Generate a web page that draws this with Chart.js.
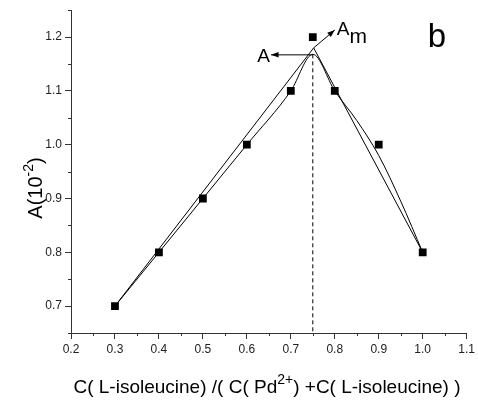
<!DOCTYPE html>
<html>
<head>
<meta charset="utf-8">
<script src="https://cdn.jsdelivr.net/npm/chart.js@4/dist/chart.umd.min.js"></script>
<style>
  html, body { margin: 0; padding: 0; background: #fff; }
  #wrap { width: 478px; height: 405px; }
</style>
</head>
<body>
<div id="wrap"><canvas id="jobChart"></canvas></div>
<script>
// measured points (squares)
const xValues = [0.3, 0.4, 0.5, 0.6, 0.7, 0.75, 0.8, 0.9, 1.0];
const aValues = [0.7, 0.8, 0.9, 1.0, 1.1, 1.2, 1.1, 1.0, 0.8];

// smooth fitted curve
const fitX = [0.3, 0.4, 0.5, 0.6, 0.7, 0.75, 0.8, 0.85, 0.9, 0.95, 1.0];
const fitY = [0.7, 0.8, 0.9, 1.0, 1.1, 1.168, 1.1, 1.045, 0.98, 0.895, 0.8];

// two straight tangent lines meeting at Am
const tangentX = [0.3, 0.752, 1.0];
const tangentY = [0.7, 1.18, 0.8];

// dashed line at the curve maximum
const peakX = 0.75;
const peakY = 1.168;

// arrows: [fromX, fromY, toX, toY]
const arrowA = [0.75, 1.167, 0.655, 1.167];
const arrowAm = [0.752, 1.18, 0.80, 1.213];

const xTicks = [0.2, 0.3, 0.4, 0.5, 0.6, 0.7, 0.8, 0.9, 1.0, 1.1];
const yTicks = [0.7, 0.8, 0.9, 1.0, 1.1, 1.2];
const xMinor = [0.25, 0.35, 0.45, 0.55, 0.65, 0.75, 0.85, 0.95, 1.05];
const yMinor = [0.65, 0.75, 0.85, 0.95, 1.05, 1.15, 1.25];

const fontName = '"Liberation Sans", Arial, sans-serif';
const axisColor = '#333';

function pts(xs, ys) {
    return xs.map((x, i) => ({ x: x, y: ys[i] }));
}

// draws minor ticks, arrows, labels and axis titles
const extras = {
    id: 'extras',
    afterDraw(chart) {
        const ctx = chart.ctx;
        const xs = chart.scales.x;
        const ys = chart.scales.y;
        const area = chart.chartArea;
        ctx.save();

        // minor ticks
        ctx.strokeStyle = axisColor;
        ctx.lineWidth = 1;
        ctx.beginPath();
        xMinor.forEach(v => {
            const px = Math.round(xs.getPixelForValue(v)) + 0.5;
            ctx.moveTo(px, area.bottom);
            ctx.lineTo(px, area.bottom + 3);
        });
        yMinor.forEach(v => {
            const py = Math.round(ys.getPixelForValue(v)) + 0.5;
            ctx.moveTo(area.left, py);
            ctx.lineTo(area.left - 3, py);
        });
        ctx.stroke();

        // arrows
        function arrow(a) {
            const x1 = xs.getPixelForValue(a[0]), y1 = ys.getPixelForValue(a[1]);
            const x2 = xs.getPixelForValue(a[2]), y2 = ys.getPixelForValue(a[3]);
            const ang = Math.atan2(y2 - y1, x2 - x1);
            ctx.strokeStyle = '#000';
            ctx.fillStyle = '#000';
            ctx.lineWidth = 1;
            ctx.beginPath();
            ctx.moveTo(x1, y1);
            ctx.lineTo(x2, y2);
            ctx.stroke();
            ctx.beginPath();
            ctx.moveTo(x2, y2);
            ctx.lineTo(x2 - 8 * Math.cos(ang - 0.35), y2 - 8 * Math.sin(ang - 0.35));
            ctx.lineTo(x2 - 8 * Math.cos(ang + 0.35), y2 - 8 * Math.sin(ang + 0.35));
            ctx.closePath();
            ctx.fill();
        }
        arrow(arrowA);
        arrow(arrowAm);

        ctx.fillStyle = '#000';
        ctx.textBaseline = 'alphabetic';

        // A label
        ctx.font = '19px ' + fontName;
        ctx.textAlign = 'right';
        ctx.fillText('A', xs.getPixelForValue(arrowA[2]) - 1, ys.getPixelForValue(arrowA[3]) + 7);

        // Am label
        ctx.textAlign = 'left';
        const amx = xs.getPixelForValue(arrowAm[2]) + 2;
        const amy = ys.getPixelForValue(arrowAm[3]);
        ctx.font = '19px ' + fontName;
        ctx.fillText('A', amx, amy + 5);
        const aw = ctx.measureText('A').width;
        ctx.font = '21px ' + fontName;
        ctx.fillText('m', amx + aw, amy + 13);

        // panel letter
        ctx.font = '33px ' + fontName;
        ctx.textAlign = 'center';
        ctx.fillText('b', 437, 47);

        // x axis title with superscript
        const parts = [
            ['C( L-isoleucine) /( C( Pd', 19, 0],
            ['2+', 14, -9],
            [') +C( L-isoleucine) )', 19, 0]
        ];
        let total = 0;
        parts.forEach(p => { ctx.font = p[1] + 'px ' + fontName; total += ctx.measureText(p[0]).width; });
        let cx = 267 - total / 2;
        ctx.textAlign = 'left';
        parts.forEach(p => {
            ctx.font = p[1] + 'px ' + fontName;
            ctx.fillText(p[0], cx, 393 + p[2]);
            cx += ctx.measureText(p[0]).width;
        });

        // y axis title with superscript
        ctx.translate(42, 188);
        ctx.rotate(-Math.PI / 2);
        const yparts = [['A(10', 20, 0], ['-2', 14, -9], [')', 20, 0]];
        total = 0;
        yparts.forEach(p => { ctx.font = p[1] + 'px ' + fontName; total += ctx.measureText(p[0]).width; });
        cx = -total / 2;
        yparts.forEach(p => {
            ctx.font = p[1] + 'px ' + fontName;
            ctx.fillText(p[0], cx, p[2]);
            cx += ctx.measureText(p[0]).width;
        });

        ctx.restore();
    }
};

const ctx = document.getElementById('jobChart').getContext('2d');
const jobChart = new Chart(ctx, {
    type: 'scatter',
    data: {
        datasets: [
            {
                label: 'tangents',
                data: pts(tangentX, tangentY),
                showLine: true,
                borderColor: '#000',
                borderWidth: 1,
                pointRadius: 0,
                tension: 0
            },
            {
                label: 'fit',
                data: pts(fitX, fitY),
                showLine: true,
                borderColor: '#000',
                borderWidth: 1,
                pointRadius: 0,
                cubicInterpolationMode: 'monotone'
            },
            {
                label: 'peak',
                data: [{ x: peakX, y: peakY }, { x: peakX, y: 0.65 }],
                showLine: true,
                borderColor: '#000',
                borderWidth: 1,
                borderDash: [4, 3],
                pointRadius: 0
            },
            {
                label: 'A',
                data: pts(xValues, aValues),
                showLine: false,
                pointStyle: 'rect',
                pointRadius: 5.5,
                backgroundColor: '#000',
                borderColor: '#000',
                borderWidth: 0
            }
        ]
    },
    options: {
        responsive: true,
        maintainAspectRatio: false,
        animation: false,
        layout: { padding: { left: 0, right: 10, top: 7, bottom: 0 } },
        plugins: {
            legend: { display: false },
            tooltip: { enabled: false }
        },
        scales: {
            x: {
                type: 'linear',
                min: 0.2,
                max: 1.1,
                afterBuildTicks: s => { s.ticks = xTicks.map(v => ({ value: v })); },
                afterFit: s => { s.height = 72; },
                ticks: {
                    callback: v => v.toFixed(1),
                    font: { family: fontName, size: 12 },
                    color: '#222',
                    padding: 3,
                    maxRotation: 0,
                    autoSkip: false
                },
                grid: { drawOnChartArea: false, tickLength: 6, color: axisColor },
                border: { color: axisColor, width: 1 }
            },
            y: {
                type: 'linear',
                min: 0.65,
                max: 1.25,
                afterBuildTicks: s => { s.ticks = yTicks.map(v => ({ value: v })); },
                afterFit: s => { s.width = 71; },
                ticks: {
                    callback: v => v.toFixed(1),
                    font: { family: fontName, size: 12 },
                    color: '#222',
                    padding: 3,
                    autoSkip: false
                },
                grid: { drawOnChartArea: false, tickLength: 6, color: axisColor },
                border: { color: axisColor, width: 1 }
            }
        }
    },
    plugins: [extras]
});
</script>
</body>
</html>
